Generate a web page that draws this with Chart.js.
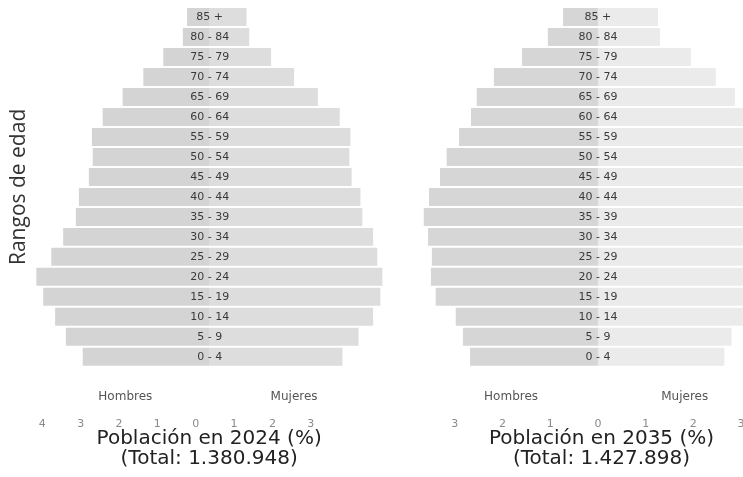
<!DOCTYPE html>
<html>
<head>
<meta charset="utf-8">
<script src="https://cdn.jsdelivr.net/npm/chart.js@4.4.1/dist/chart.umd.min.js"></script>
<style>
  html, body { margin: 0; padding: 0; background: #ffffff; overflow: hidden; }
  #wrap { position: relative; width: 743px; height: 477px; overflow: hidden; }
  #c1box { position: absolute; left: 0; top: 0; width: 390px; height: 477px; }
  #c2box { position: absolute; left: 390px; top: 0; width: 420px; height: 477px; }
</style>
</head>
<body>
<div id="wrap">
  <div id="c1box"><canvas id="c1"></canvas></div>
  <div id="c2box"><canvas id="c2"></canvas></div>
</div>
<script>
// ---- data (percent of total population) ----
const ageGroups = ["85 +", "80 - 84", "75 - 79", "70 - 74", "65 - 69", "60 - 64", "55 - 59",
  "50 - 54", "45 - 49", "40 - 44", "35 - 39", "30 - 34", "25 - 29", "20 - 24",
  "15 - 19", "10 - 14", "5 - 9", "0 - 4"];

const men2024   = [0.59, 0.70, 1.21, 1.73, 2.27, 2.79, 3.07, 3.05, 3.15, 3.41, 3.49, 3.82, 4.13, 4.52, 4.34, 4.03, 3.75, 3.31];
const women2024 = [0.96, 1.03, 1.60, 2.20, 2.82, 3.39, 3.67, 3.64, 3.70, 3.93, 3.98, 4.26, 4.37, 4.50, 4.45, 4.26, 3.88, 3.46];

const men2035   = [0.73, 1.05, 1.59, 2.18, 2.54, 2.66, 2.91, 3.17, 3.31, 3.54, 3.65, 3.56, 3.48, 3.50, 3.40, 2.98, 2.83, 2.68];
const women2035 = [1.26, 1.30, 1.95, 2.47, 2.87, 3.15, 3.35, 3.55, 3.65, 3.85, 3.90, 3.80, 3.70, 3.70, 3.60, 3.05, 2.80, 2.65];

const ticks2024 = [-4, -3, -2, -1, 0, 1, 2, 3];
const ticks2035 = [-3, -2, -1, 0, 1, 2, 3];

const title2024 = ["Población en 2024 (%)", "(Total: 1.380.948)"];
const title2035 = ["Población en 2035 (%)", "(Total: 1.427.898)"];
const yTitle = "Rangos de edad";
const sexLabels = ["Hombres", "Mujeres"];

// ---- plugin: age labels in the centre and sex labels under the bars ----
const pyramidText = {
  id: 'pyramidText',
  afterDatasetsDraw(chart, args, opts) {
    const ctx = chart.ctx;
    const xs = chart.scales.x, ys = chart.scales.y;
    const x0 = xs.getPixelForValue(0);
    ctx.save();
    ctx.font = '11px "DejaVu Sans", Verdana, sans-serif';
    ctx.fillStyle = '#3a3a3a';
    ctx.textAlign = 'center';
    ctx.textBaseline = 'middle';
    chart.data.labels.forEach((lab, i) => {
      ctx.fillText(lab, x0, ys.getPixelForValue(i));
    });
    ctx.font = '12px "DejaVu Sans", Verdana, sans-serif';
    ctx.fillStyle = '#555555';
    const yy = chart.chartArea.bottom + opts.sexOffset;
    ctx.fillText(sexLabels[0], xs.getPixelForValue(-opts.sexAt), yy);
    ctx.fillText(sexLabels[1], xs.getPixelForValue(opts.sexAt), yy);
    ctx.restore();
  }
};

function makeChart(id, men, women, tickVals, title, range, colors, extra) {
  return new Chart(document.getElementById(id), {
    type: 'bar',
    data: {
      labels: ageGroups,
      datasets: [
        { label: sexLabels[0], data: men.map(v => -v), backgroundColor: colors[0], borderWidth: 0 },
        { label: sexLabels[1], data: women, backgroundColor: colors[1], borderWidth: 0 }
      ]
    },
    options: {
      indexAxis: 'y',
      responsive: true,
      maintainAspectRatio: false,
      animation: false,
      layout: { padding: extra.padding },
      datasets: { bar: { barPercentage: 0.9, categoryPercentage: 1.0 } },
      plugins: {
        legend: { display: false },
        tooltip: { enabled: false },
        pyramidText: { sexAt: extra.sexAt, sexOffset: 30 }
      },
      scales: {
        x: {
          stacked: true,
          min: range[0], max: range[1],
          afterBuildTicks(scale) { scale.ticks = tickVals.map(v => ({ value: v })); },
          grid: { display: false, drawTicks: false },
          border: { display: false },
          ticks: {
            padding: 51,
            labelOffset: extra.labelOffset,
            color: '#8a8a8a',
            font: { family: '"DejaVu Sans", Verdana, sans-serif', size: 11 },
            callback: v => String(Math.abs(v))
          },
          title: {
            display: true,
            text: title,
            color: '#222222',
            font: { family: '"DejaVu Sans", Verdana, sans-serif', size: 20, lineHeight: 1.0 },
            padding: { top: -53, bottom: 8 }
          }
        },
        y: {
          stacked: true,
          display: extra.showY,
          grid: { display: false, drawTicks: false },
          border: { display: false },
          ticks: { display: false },
          title: {
            display: extra.showY,
            text: yTitle,
            color: '#333333',
            font: { family: '"Open Sans", sans-serif', size: 21 },
            padding: { top: 0, bottom: 2 }
          }
        }
      }
    },
    plugins: [pyramidText]
  });
}

makeChart('c1', men2024, women2024, ticks2024, title2024, [-4.6, 4.57],
  ['#d4d4d4', '#dddddd'],
  { padding: { left: 0, right: 5, top: 7, bottom: 0 }, sexAt: 2.2, labelOffset: -14, showY: true });

makeChart('c2', men2035, women2035, ticks2035, title2035, [-4.19, 4.34],
  ['#d6d6d6', '#ebebeb'],
  { padding: { left: 8, right: 5, top: 7, bottom: 0 }, sexAt: 1.82, labelOffset: 0, showY: false });
</script>
</body>
</html>
